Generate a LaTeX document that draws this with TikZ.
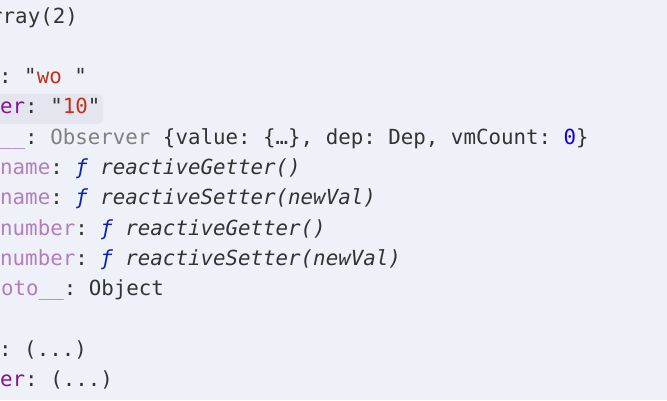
\documentclass[tikz,border=0pt]{standalone}
\usepackage{fontspec}
\setmonofont{DejaVu Sans Mono}
\definecolor{bg}{HTML}{EEF1F8}
\definecolor{hl}{HTML}{E3E6EE}
\definecolor{txt}{HTML}{333333}
\definecolor{str}{HTML}{C5301E}
\definecolor{key}{HTML}{881391}
\definecolor{dim}{HTML}{B47DBD}
\definecolor{gry}{HTML}{808080}
\definecolor{num}{HTML}{1C00CF}
\definecolor{fn}{HTML}{0D22AA}
\begin{document}
\begin{tikzpicture}[x=1pt,y=-1pt,every node/.style={anchor=base west,inner sep=0pt,font=\ttfamily\fontsize{20.8}{25}\selectfont,text=txt}]

\fill[bg] (0,0) rectangle (667,400);
\useasboundingbox (0,0) rectangle (667,400);
\clip (0,0) rectangle (667,400);
\fill[hl,rounded corners=5pt] (-6,94) rectangle (103,124);

\node (a0) at (-10,23) {rray(2)};
\node (a2) at (-1,23+30.3*2) {: "{\color{str}wo }"};
\node (a3) at (0,23+30.3*3) {{\color{key}er}: "{\color{str}10}"};
\node (a4) at (0,23+30.3*4) {{\color{dim}\_\_}: {\color{gry}Observer} \{value: \{…\}, dep: Dep, vmCount: {\color{num}0}\}};

\foreach \n/\k/\v in {5/name/Getter(),6/name/Setter(newVal),7/number/Getter(),8/number/Setter(newVal)}
\node (a\n) at (0,23+30.3*\n) {{\color{dim}\k}: {\color{fn}\itshape ƒ} {\itshape reactive\v}};

\node (a9) at (1,23+30.3*9) {{\color{dim}oto\_\_}: Object};

\node (a11) at (-1,23+30.3*11) {: (...)};
\node (a12) at (0,23+30.3*12) {{\color{key}er}: (...)};

\end{tikzpicture}
\end{document}
